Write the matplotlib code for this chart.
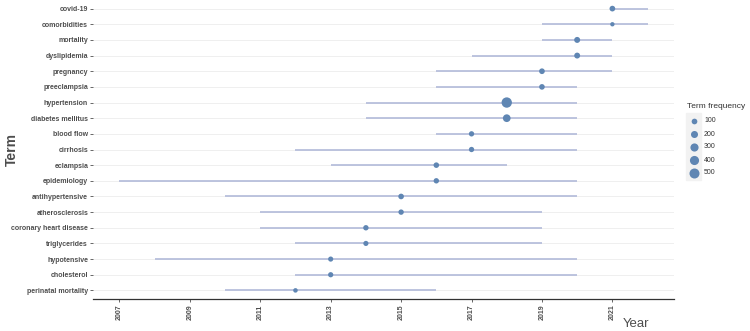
import matplotlib.pyplot as plt
from matplotlib.patches import Rectangle

plt.rcParams["font.family"] = ["Liberation Sans", "DejaVu Sans"]

# terms from top to bottom
terms = ["covid-19", "comorbidities", "mortality", "dyslipidemia", "pregnancy",
         "preeclampsia", "hypertension", "diabetes mellitus", "blood flow",
         "cirrhosis", "eclampsia", "epidemiology", "antihypertensive",
         "atherosclerosis", "coronary heart disease", "triglycerides",
         "hypotensive", "cholesterol", "perinatal mortality"]
year_start = [2021, 2019, 2019, 2017, 2016, 2016, 2014, 2014, 2016, 2012,
              2013, 2007, 2010, 2011, 2011, 2012, 2008, 2012, 2010]
year_median = [2021, 2021, 2020, 2020, 2019, 2019, 2018, 2018, 2017, 2017,
               2016, 2016, 2015, 2015, 2014, 2014, 2013, 2013, 2012]
year_end = [2022, 2022, 2021, 2021, 2021, 2020, 2020, 2020, 2020, 2020,
            2018, 2020, 2020, 2019, 2019, 2019, 2020, 2020, 2016]
freq = [100, 20, 120, 115, 100, 95, 540, 260, 75, 75,
        90, 80, 95, 80, 80, 65, 65, 70, 30]

legend_vals = [100, 200, 300, 400, 500]
year_ticks = [2007, 2009, 2011, 2013, 2015, 2017, 2019, 2021]

dot_color = "#5f86b3"
line_color = "#b7bfdc"


def msize(f):
    return 8 + f * 0.088


fig = plt.figure(figsize=(7.5, 3.31), dpi=100)
ax = fig.add_axes([93 / 750, 1 - 299 / 331, (674 - 93) / 750, 299 / 331])

n = len(terms)
ypos = [n - 1 - i for i in range(n)]

for y in ypos:
    ax.axhline(y, color="#ededed", lw=0.6, zorder=0)
ax.hlines(ypos, year_start, year_end, color=line_color, lw=1.3, zorder=1)
ax.scatter(year_median, ypos, s=[msize(f) for f in freq], color=dot_color,
           zorder=2, linewidths=0)

ax.set_xlim(2006.25, 2022.75)
ax.set_ylim(-0.55, n - 0.45)
ax.set_yticks(ypos)
ax.set_yticklabels(terms, fontsize=5.0, fontweight="bold", color="#4d4d4d")
ax.set_xticks(year_ticks)
ax.set_xticklabels([str(t) for t in year_ticks], rotation=90, fontsize=5.0,
                   fontweight="bold", color="#4d4d4d")
ax.tick_params(axis="y", length=2, width=0.6, color="#4d4d4d", pad=1.5)
ax.tick_params(axis="x", length=2, width=0.6, color="#4d4d4d", pad=2)

for side in ["top", "right", "left"]:
    ax.spines[side].set_visible(False)
ax.spines["bottom"].set_color("#333333")
ax.spines["bottom"].set_linewidth(0.9)

fig.text(12 / 750, 1 - 150 / 331, "Term", rotation=90, fontsize=10,
         fontweight="bold", color="#4d4d4d", ha="center", va="center")
fig.text(636 / 750, 1 - 324 / 331, "Year", fontsize=9.5, color="#4d4d4d",
         ha="center", va="center")

# size legend
fig.patches.append(Rectangle((686 / 750, 1 - 180 / 331), 15 / 750, 67 / 331,
                             transform=fig.transFigure, color="#f2f2f2",
                             zorder=0))
fig.text(687 / 750, 1 - 106 / 331, "Term frequency", fontsize=6.0,
         color="#333333", va="center")
for i, v in enumerate(legend_vals):
    yy = 1 - (121 + i * 13) / 331
    fig.add_artist(plt.Line2D([693.5 / 750], [yy], marker="o", linestyle="",
                              markersize=msize(v) ** 0.5, color=dot_color,
                              markeredgewidth=0, transform=fig.transFigure))
    fig.text(704 / 750, yy, str(v), fontsize=5.0, color="#333333",
             va="center")

fig.savefig("out.png", dpi=100)
